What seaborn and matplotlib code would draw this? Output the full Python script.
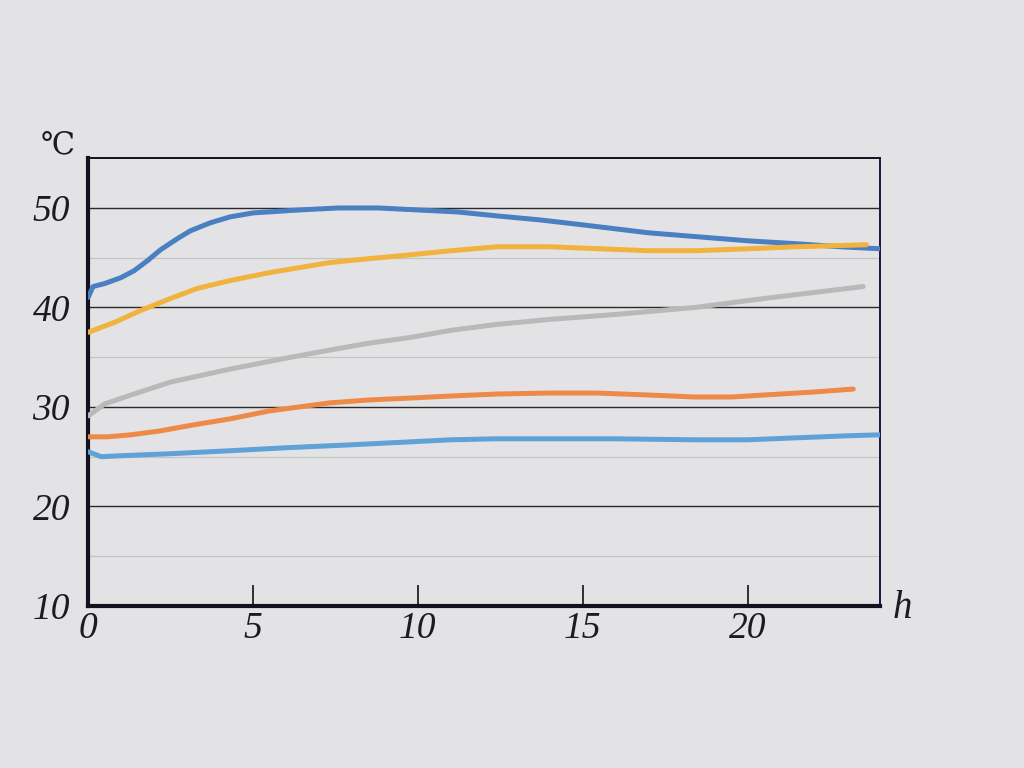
import pandas as pd
import matplotlib.pyplot as plt
import seaborn as sns

# Datos (hora, temperatura en grados C)
horas_a = [0, 0.15, 0.5, 1.0, 1.4, 1.8, 2.2, 2.7, 3.1, 3.7, 4.3, 5.0, 6.4, 7.6, 8.8, 10.0, 11.2, 12.4, 13.7, 15.0, 16.0, 17.0, 18.5, 20.0, 21.5, 22.8, 24.0]
temp_a = [41.0, 42.1, 42.4, 43.0, 43.7, 44.7, 45.8, 46.9, 47.7, 48.5, 49.1, 49.5, 49.8, 50.0, 50.0, 49.8, 49.6, 49.2, 48.8, 48.3, 47.9, 47.5, 47.1, 46.7, 46.4, 46.1, 45.9]

horas_b = [0, 0.8, 1.6, 2.5, 3.3, 4.3, 5.5, 7.3, 8.5, 9.8, 11.0, 12.4, 14.0, 15.5, 17.0, 18.4, 20.0, 21.5, 23.6]
temp_b = [37.5, 38.5, 39.7, 40.9, 41.9, 42.7, 43.5, 44.5, 44.9, 45.3, 45.7, 46.1, 46.1, 45.9, 45.7, 45.7, 45.9, 46.1, 46.3]

horas_c = [0, 0.5, 1.3, 2.5, 4.3, 6.0, 7.3, 8.5, 9.8, 11.0, 12.4, 14.0, 16.0, 18.4, 20.5, 22.0, 23.5]
temp_c = [29.1, 30.3, 31.2, 32.5, 33.8, 34.9, 35.7, 36.4, 37.0, 37.7, 38.3, 38.8, 39.3, 40.0, 40.9, 41.5, 42.1]

horas_d = [0, 0.6, 1.3, 2.2, 3.2, 4.3, 5.5, 7.3, 8.5, 9.8, 11.0, 12.4, 14.0, 15.4, 17.0, 18.4, 19.5, 20.5, 22.0, 23.2]
temp_d = [27.0, 27.0, 27.2, 27.6, 28.2, 28.8, 29.6, 30.4, 30.7, 30.9, 31.1, 31.3, 31.4, 31.4, 31.2, 31.0, 31.0, 31.2, 31.5, 31.8]

horas_e = [0, 0.4, 1.0, 2.5, 4.3, 6.0, 8.0, 9.8, 11.0, 12.4, 14.0, 16.0, 18.4, 20.0, 21.5, 23.0, 24.0]
temp_e = [25.5, 25.0, 25.1, 25.3, 25.6, 25.9, 26.2, 26.5, 26.7, 26.8, 26.8, 26.8, 26.7, 26.7, 26.9, 27.1, 27.2]

colores = ["#4a7fc1", "#f1b23e", "#b9b9b9", "#ee8a48", "#5ea2d8"]
nombres = ["a", "b", "c", "d", "e"]

y_ticks = [10, 20, 30, 40, 50]
x_ticks = [0, 5, 10, 15, 20]

sns.set_style("white")
plt.rcParams['font.family'] = ['Liberation Serif', 'DejaVu Serif']

series = [(horas_a, temp_a), (horas_b, temp_b), (horas_c, temp_c), (horas_d, temp_d), (horas_e, temp_e)]
filas = []
for nombre, (hs, ts) in zip(nombres, series):
    for h, t in zip(hs, ts):
        filas.append({'serie': nombre, 'hora': h, 'temp': t})
df = pd.DataFrame(filas)

fondo = "#e3e3e5"
texto = "#1e1a22"
fig = plt.figure(figsize=(10.24, 7.68), dpi=100, facecolor=fondo)
ax = fig.add_axes([0.086, 0.211, 0.773, 0.583])
ax.set_facecolor(fondo)

# lineas de rejilla
for y in [20, 30, 40, 50]:
    ax.axhline(y, color="#2a2a2a", lw=1.0, zorder=1)
for y in [15, 25, 35, 45]:
    ax.axhline(y, color="#c4c4c4", lw=0.9, zorder=1)

sns.lineplot(data=df, x='hora', y='temp', hue='serie', palette=colores,
             linewidth=3.6, legend=False, sort=False, ax=ax, zorder=3)

ax.set_xlim(0, 24)
ax.set_ylim(10, 55)
ax.set_xlabel('')
ax.set_ylabel('')

ax.set_yticks(y_ticks)
ax.set_yticklabels([str(v) for v in y_ticks], fontsize=27, style='italic', color=texto)
ax.tick_params(axis='y', left=False, length=0, pad=13)
ax.set_xticks(x_ticks)
ax.set_xticklabels([str(v) for v in x_ticks], fontsize=27, style='italic', color=texto)
ax.tick_params(axis='x', bottom=True, direction='in', length=15, width=1.2, pad=4, color='#111111')

ax.spines['left'].set_linewidth(3.0)
ax.spines['bottom'].set_linewidth(3.0)
ax.spines['top'].set_linewidth(1.4)
ax.spines['right'].set_linewidth(1.4)
for s in ['left', 'bottom', 'top']:
    ax.spines[s].set_color('#15101e')
ax.spines['right'].set_color('#1c1440')

fig.text(0.040, 0.800, '℃', fontsize=22, color=texto, family=['DejaVu Serif'])
fig.text(0.872, 0.195, 'h', fontsize=28, style='italic', color=texto)

plt.savefig('out.png', dpi=100, facecolor=fondo)
